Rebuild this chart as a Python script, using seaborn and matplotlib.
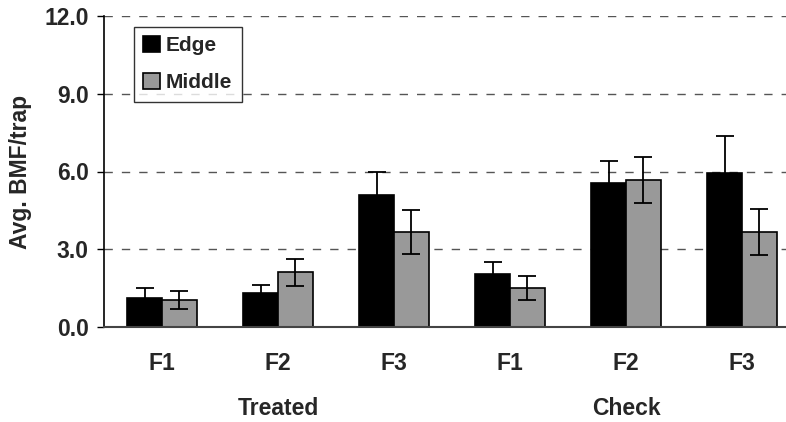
import matplotlib
matplotlib.use("Agg")
import matplotlib.pyplot as plt
import matplotlib.transforms as mtransforms
import seaborn as sns
import pandas as pd
import numpy as np

# ---- data ----
treatments = ["Treated", "Treated", "Treated", "Check", "Check", "Check"]
fields = ["F1", "F2", "F3", "F1", "F2", "F3"]
edge_means = [1.10, 1.31, 5.08, 2.04, 5.57, 5.96]
edge_err = [0.40, 0.31, 0.92, 0.46, 0.85, 1.40]
middle_means = [1.02, 2.11, 3.66, 1.50, 5.67, 3.66]
middle_err = [0.35, 0.52, 0.85, 0.47, 0.88, 0.88]
series = ["Edge", "Middle"]
yticks = [0.0, 3.0, 6.0, 9.0, 12.0]

sns.set_theme(style="white")
plt.rcParams["font.family"] = ["Liberation Sans", "DejaVu Sans"]
plt.rcParams["font.weight"] = "bold"

FS = 16.5

keys = [f"{t} {f}" for t, f in zip(treatments, fields)]
df = pd.DataFrame({
    "key": keys * 2,
    "Location": ["Edge"] * 6 + ["Middle"] * 6,
    "value": edge_means + middle_means,
})

fig = plt.figure(figsize=(7.86, 4.22), dpi=100)
ax = fig.add_axes([104 / 786, 1 - 326.7 / 422, 696 / 786, 310.4 / 422])

sns.barplot(data=df, x="key", y="value", hue="Location", order=keys,
            hue_order=series, palette=["#000000", "#999999"],
            width=0.6, errorbar=None, edgecolor="black", linewidth=1.2,
            ax=ax, zorder=3)

# error bars at bar centers
errs = {"Edge": edge_err, "Middle": middle_err}
means = {"Edge": edge_means, "Middle": middle_means}
for cont, name in zip(ax.containers, series):
    xs = [p.get_x() + p.get_width() / 2 for p in cont.patches]
    ax.errorbar(xs, means[name], yerr=errs[name], fmt="none", ecolor="black",
                elinewidth=1.3, capsize=6.5, capthick=1.3, zorder=4)

ax.set_ylim(0, 12)
ax.set_xlim(-0.5, 5.5)
ax.set_yticks(yticks)
ax.set_yticklabels([f"{v:.1f}" for v in yticks])
ax.set_xticks(range(6))
ax.set_xticklabels(fields)
ax.tick_params(axis="x", length=0, pad=18, labelsize=FS)
ax.tick_params(axis="y", length=5, width=1, color="black", pad=6, left=True,
               labelsize=FS)
for lab in ax.get_xticklabels() + ax.get_yticklabels():
    lab.set_fontweight("bold")

for y in [3.0, 6.0, 9.0, 12.0]:
    ax.axhline(y, color="#555555", linewidth=1, dashes=(6, 6.5), zorder=1)

for s in ["top", "right"]:
    ax.spines[s].set_visible(False)
ax.spines["left"].set_color("black")
ax.spines["left"].set_linewidth(1.2)
ax.spines["bottom"].set_color("#444444")
ax.spines["bottom"].set_linewidth(1.5)
ax.spines["bottom"].set_zorder(5)

ax.set_xlabel("")
ax.set_ylabel("Avg. BMF/trap", fontsize=FS, fontweight="bold", labelpad=9)

trans = mtransforms.blended_transform_factory(ax.transData, ax.transAxes)
for label, xpos in [("Treated", 1), ("Check", 4)]:
    ax.text(xpos, -0.262, label, transform=trans, ha="center", va="center",
            fontsize=FS, fontweight="bold")

leg = ax.legend(loc="upper left", bbox_to_anchor=(0.0427, 0.9665),
                borderaxespad=0, frameon=True, fancybox=False,
                prop={"size": 15, "weight": "bold"},
                handlelength=0.8, handleheight=0.8, handletextpad=0.3,
                labelspacing=0.85, borderpad=0.45)
leg.get_frame().set_edgecolor("black")
leg.get_frame().set_linewidth(1)
leg.set_title(None)

fig.savefig("out.png", dpi=100)
